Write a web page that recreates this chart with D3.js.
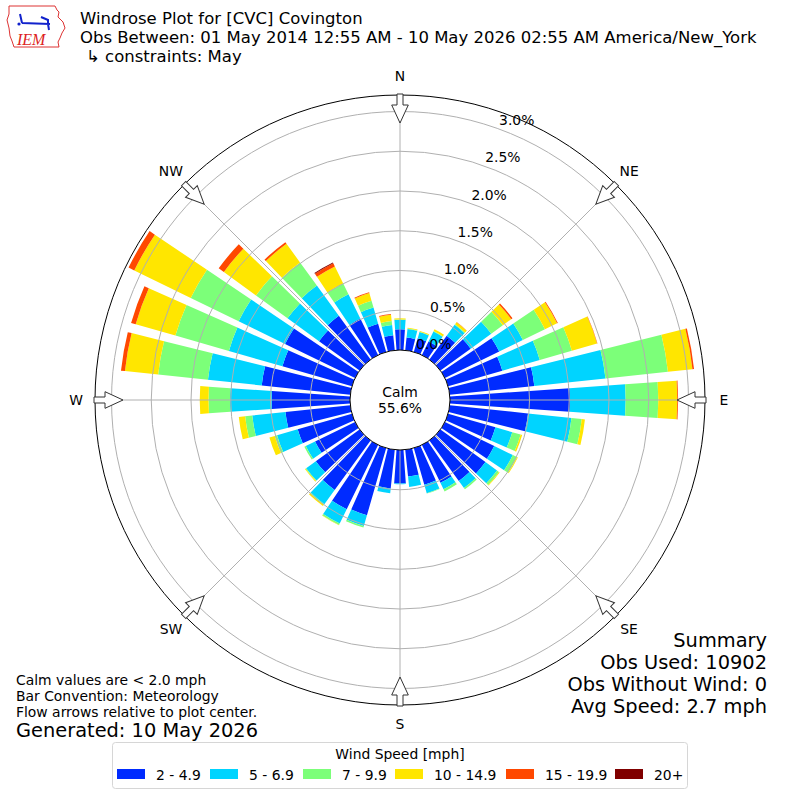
<!DOCTYPE html>
<meta charset="utf-8">

<!-- Load d3.js -->
<script src="https://d3js.org/d3.v7.min.js"></script>

<style>
  body { margin: 0; background: white; }
  text { font-family: "DejaVu Sans", sans-serif; fill: black; }
</style>

<body>
<div id="my_dataviz"></div>
</body>

<script>

  // ---------------------------//
  //       DATA                 //
  // ---------------------------//

  // wind direction (degrees, direction the wind blows from)
  const directions = [0,10,20,30,40,50,60,70,80,90,100,110,120,130,140,150,160,170,
                      180,190,200,210,220,230,240,250,260,270,280,290,300,310,320,330,340,350]

  // frequency (%) per speed bin, one value per direction
  const bin1 = [0.26,0.16,0.18,0.19,0.37,0.47,0.76,0.71,1.07,1.51,0.99,0.62,0.69,0.70,0.63,0.53,0.48,0.34,
                0.42,0.49,0.88,0.90,0.77,0.68,0.56,0.71,0.82,0.985,1.12,0.91,0.98,0.63,0.68,0.51,0.37,0.19]
  const bin2 = [0.12,0.11,0.08,0.14,0.17,0.32,0.33,0.49,0.90,0.70,0.55,0.22,0.26,0.18,0.11,0.09,0.11,0.13,
                0.01,0.06,0.14,0.20,0.22,0.15,0.13,0.27,0.42,0.525,0.68,0.70,0.65,0.49,0.47,0.34,0.21,0.13]
  const bin3 = [0.005,0.005,0.005,0.005,0.01,0.18,0.31,0.42,0.79,0.41,0.13,0.11,0.06,0.03,0.02,0.03,0.005,0,
                0,0,0.02,0.02,0.01,0.01,0.02,0.03,0.09,0.27,0.63,0.70,0.67,0.49,0.36,0.15,0.09,0.05]
  const bin4 = [0.015,0.01,0.01,0.025,0.03,0.13,0.17,0.33,0.31,0.24,0.04,0.02,0.01,0.01,0,0,0,0,
                0,0,0,0.005,0.02,0.01,0,0.07,0.08,0.11,0.42,0.52,0.79,0.50,0.29,0.24,0.10,0.08]
  const bin5 = [0,0,0,0,0.003,0.02,0.01,0.005,0.02,0.01,0,0,0,0,0,0,0,0,
                0,0,0,0,0,0,0,0,0,0,0.05,0.06,0.08,0.08,0.025,0.045,0.01,0.01]
  const bin6 = [0,0,0,0,0,0,0,0,0,0,0,0,0,0,0,0,0,0,
                0,0,0,0,0,0,0,0,0,0,0,0,0,0,0,0.012,0,0]

  const binLabels = ["2 - 4.9", "5 - 6.9", "7 - 9.9", "10 - 14.9", "15 - 19.9", "20+"]
  const binColors = ["#002bff", "#00d4ff", "#7cff79", "#ffe600", "#ff4800", "#800000"]

  const ringValues = [0.5, 1.0, 1.5, 2.0, 2.5, 3.0]
  const ringLabels = ["0.0%", "0.5%", "1.0%", "1.5%", "2.0%", "2.5%", "3.0%"]
  const compass = ["N", "NE", "E", "SE", "S", "SW", "W", "NW"]
  const calmPct = "55.6%"

  const titleLines = ["Windrose Plot for [CVC] Covington",
                      "Obs Between: 01 May 2014 12:55 AM - 10 May 2026 02:55 AM America/New_York",
                      "\u21b3 constraints: May"]
  const noteLines = ["Calm values are < 2.0 mph", "Bar Convention: Meteorology",
                     "Flow arrows relative to plot center."]
  const summaryLines = ["Summary", "Obs Used: 10902", "Obs Without Wind: 0", "Avg Speed: 2.7 mph"]

  // ---------------------------//
  //       SETUP                //
  // ---------------------------//

  const svg = d3.select("#my_dataviz")
    .append("svg")
    .attr("width", 800)
    .attr("height", 800)

  svg.append("rect").attr("width", 800).attr("height", 800).attr("fill", "white")

  const cx = 400, cy = 400
  const rose = svg.append("g").attr("transform", `translate(${cx},${cy})`)

  // radial scale: 0% sits on the calm circle
  const r = d3.scaleLinear().domain([0, 3]).range([50, 288.5])
  const outerR = 305
  const rad = Math.PI / 180
  const halfWidth = 4 * rad   // bars are 8 degrees wide

  // build a table for d3.stack
  const keys = ["b1", "b2", "b3", "b4", "b5", "b6"]
  const table = directions.map((d, i) => ({
    dir: d, b1: bin1[i], b2: bin2[i], b3: bin3[i], b4: bin4[i], b5: bin5[i], b6: bin6[i]
  }))
  const stacked = d3.stack().keys(keys)(table)

  const color = d3.scaleOrdinal().domain(keys).range(binColors)

  // ---------------------------//
  //       BARS                 //
  // ---------------------------//

  const arc = d3.arc()
    .innerRadius(d => r(d[0]))
    .outerRadius(d => r(d[1]))
    .startAngle(d => d.data.dir * rad - halfWidth)
    .endAngle(d => d.data.dir * rad + halfWidth)

  rose.selectAll("g.layer")
    .data(stacked)
    .join("g")
      .attr("class", "layer")
      .attr("fill", d => color(d.key))
    .selectAll("path")
    .data(d => d.filter(s => s[1] - s[0] > 0))
    .join("path")
      .attr("d", arc)

  // ---------------------------//
  //       GRID                 //
  // ---------------------------//

  rose.selectAll("circle.ring")
    .data(ringValues)
    .join("circle")
      .attr("class", "ring")
      .attr("r", d => r(d))
      .attr("fill", "none")
      .attr("stroke", "#b0b0b0")
      .attr("stroke-width", 1)

  rose.selectAll("line.spoke")
    .data(d3.range(8))
    .join("line")
      .attr("class", "spoke")
      .attr("x1", d => 50 * Math.sin(d * 45 * rad))
      .attr("y1", d => -50 * Math.cos(d * 45 * rad))
      .attr("x2", d => outerR * Math.sin(d * 45 * rad))
      .attr("y2", d => -outerR * Math.cos(d * 45 * rad))
      .attr("stroke", "#b0b0b0")
      .attr("stroke-width", 1)

  // outer frame
  rose.append("circle")
    .attr("r", outerR)
    .attr("fill", "none")
    .attr("stroke", "black")
    .attr("stroke-width", 1)

  // ring labels sit on a line a little right of 20 degrees
  rose.selectAll("text.rlabel")
    .data(ringLabels)
    .join("text")
      .attr("class", "rlabel")
      .attr("x", (d, i) => 13 + 0.3705 * (9 + 0.939 * r(i * 0.5)))
      .attr("y", (d, i) => -(9 + 0.939 * r(i * 0.5)))
      .attr("text-anchor", "middle")
      .attr("dominant-baseline", "central")
      .style("font-size", "13.9px")
      .text(d => d)

  // calm circle
  rose.append("circle")
    .attr("r", 50)
    .attr("fill", "white")
    .attr("stroke", "black")
    .attr("stroke-width", 1)

  rose.append("text")
    .attr("y", -8).attr("text-anchor", "middle").attr("dominant-baseline", "central")
    .style("font-size", "13.9px").text("Calm")
  rose.append("text")
    .attr("y", 8).attr("text-anchor", "middle").attr("dominant-baseline", "central")
    .style("font-size", "13.9px").text(calmPct)

  // ---------------------------//
  //       COMPASS              //
  // ---------------------------//

  // flow arrows pointing at the center
  const arrowPath = "M-3,-306 L3,-306 L3,-295 L8.3,-295 L0,-277 L-8.3,-295 L-3,-295 Z"
  rose.selectAll("path.arrow")
    .data(compass)
    .join("path")
      .attr("class", "arrow")
      .attr("d", arrowPath)
      .attr("transform", (d, i) => `rotate(${i * 45})`)
      .attr("fill", "white")
      .attr("stroke", "#333")
      .attr("stroke-width", 1)

  rose.selectAll("text.compass")
    .data(compass)
    .join("text")
      .attr("class", "compass")
      .attr("x", (d, i) => 324 * Math.sin(i * 45 * rad))
      .attr("y", (d, i) => -324 * Math.cos(i * 45 * rad))
      .attr("text-anchor", "middle")
      .attr("dominant-baseline", "central")
      .style("font-size", "13.9px")
      .text(d => d)

  // ---------------------------//
  //       TEXTS                //
  // ---------------------------//

  svg.selectAll("text.title")
    .data(titleLines)
    .join("text")
      .attr("class", "title")
      .attr("x", (d, i) => i == 2 ? 86 : 80)
      .attr("y", (d, i) => 24 + i * 19)
      .style("font-size", "16.5px")
      .text(d => d)

  svg.selectAll("text.note")
    .data(noteLines)
    .join("text")
      .attr("class", "note")
      .attr("x", 16)
      .attr("y", (d, i) => 680 + i * 16)
      .attr("dominant-baseline", "central")
      .style("font-size", "13.9px")
      .text(d => d)

  svg.append("text")
    .attr("x", 16).attr("y", 730)
    .attr("dominant-baseline", "central")
    .style("font-size", "19.4px")
    .text("Generated: 10 May 2026")

  svg.selectAll("text.summary")
    .data(summaryLines)
    .join("text")
      .attr("class", "summary")
      .attr("x", 767)
      .attr("y", (d, i) => 640 + i * 22)
      .attr("text-anchor", "end")
      .attr("dominant-baseline", "central")
      .style("font-size", "19.4px")
      .text(d => d)

  // ---------------------------//
  //       LEGEND               //
  // ---------------------------//

  const legend = svg.append("g")
  legend.append("rect")
    .attr("x", 112.5).attr("y", 742.5)
    .attr("width", 575).attr("height", 46)
    .attr("rx", 3)
    .attr("fill", "white")
    .attr("stroke", "#d6d6d6")

  legend.append("text")
    .attr("x", 400).attr("y", 754)
    .attr("text-anchor", "middle").attr("dominant-baseline", "central")
    .style("font-size", "13.9px")
    .text("Wind Speed [mph]")

  const legendX = [117, 210, 303, 395, 506, 615]
  legend.selectAll("rect.swatch")
    .data(binLabels)
    .join("rect")
      .attr("class", "swatch")
      .attr("x", (d, i) => legendX[i])
      .attr("y", 769)
      .attr("width", 28)
      .attr("height", 10)
      .attr("fill", (d, i) => binColors[i])

  legend.selectAll("text.lab")
    .data(binLabels)
    .join("text")
      .attr("class", "lab")
      .attr("x", (d, i) => legendX[i] + 39)
      .attr("y", 774.5)
      .attr("dominant-baseline", "central")
      .style("font-size", "13.9px")
      .text(d => d)

  // ---------------------------//
  //       LOGO                 //
  // ---------------------------//

  const logo = svg.append("g")
  logo.append("path")
    .attr("d", "M9,6 L55,6 L57,10 L59,12 L58,17 L63,22 L65,28 L62,33 L60,38 L58,42 L59,47 L14,47 L12,41 L10,36 L9,28 L7,20 L9,14 Z")
    .attr("fill", "none")
    .attr("stroke", "#d33")
    .attr("stroke-width", 1)
  logo.append("path")
    .attr("d", "M22,23 L50,24 M20,14 L22,23 M41,17 L48,20 L48,24 M48,24 L49,30")
    .attr("fill", "none")
    .attr("stroke", "#12c")
    .attr("stroke-width", 2)
  logo.append("circle").attr("cx", 19).attr("cy", 24).attr("r", 1.6).attr("fill", "#12c")
  logo.append("text")
    .attr("x", 17).attr("y", 45)
    .style("font-family", "'Liberation Serif', serif")
    .style("font-style", "italic")
    .style("font-size", "16px")
    .style("fill", "#d22")
    .text("IEM")

</script>
